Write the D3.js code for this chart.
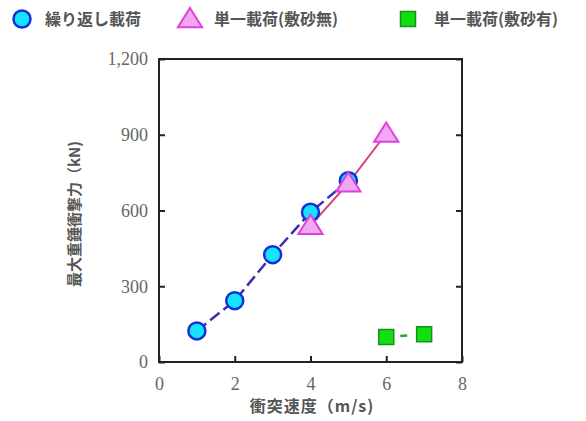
<!DOCTYPE html>
<html><head><meta charset="utf-8">
<script src="https://cdn.jsdelivr.net/npm/d3@7"></script>
<style>body{margin:0;background:#fff}</style>
</head><body>
<svg id="c" width="586" height="421"></svg>
<script>
const seriesNames = ["繰り返し載荷", "単一載荷(敷砂無)", "単一載荷(敷砂有)"];
const repeatX = [1, 2, 3, 4, 5];
const repeatY = [123, 243, 425, 593, 718];
const noSandX = [4, 5, 6];
const noSandY = [540, 708, 905];
const sandX = [6, 7];
const sandY = [99, 110];
const xTicks = [0, 2, 4, 6, 8];
const yTicks = [0, 300, 600, 900, 1200];

const svg = d3.select("#c");
const L = 159, R = 462, T = 59, B = 362;
const x = d3.scaleLinear().domain([0, 8]).range([L, R]);
const y = d3.scaleLinear().domain([0, 1200]).range([B, T]);
const serif = "'Liberation Serif', 'DejaVu Serif', serif";
const jp = "'Noto Sans CJK JP', sans-serif";

// frame
svg.append("rect").attr("x", L).attr("y", T).attr("width", R - L).attr("height", B - T)
  .attr("fill", "none").attr("stroke", "#222").attr("stroke-width", 2);

// axes
const gx = svg.append("g").attr("transform", `translate(0,${B})`)
  .call(d3.axisBottom(x).tickValues(xTicks).tickSize(-6).tickPadding(15).tickFormat(d3.format("d")));
const gy = svg.append("g").attr("transform", `translate(${L},0)`)
  .call(d3.axisLeft(y).tickValues(yTicks).tickSize(-6).tickPadding(11).tickFormat(d3.format(",")));
const gr = svg.append("g").attr("transform", `translate(${R},0)`)
  .call(d3.axisRight(y).tickValues(yTicks).tickSize(-6).tickFormat(""));
[gx, gy, gr].forEach(g => {
  g.select(".domain").remove();
  g.selectAll(".tick line").attr("stroke", "#222").attr("stroke-width", 2);
  g.selectAll("text").attr("font-family", serif).attr("font-size", 18).attr("fill", "#666");
});

// lines
const line = d3.line().x(d => x(d[0])).y(d => y(d[1]));
svg.append("path").datum(repeatX.map((v, i) => [v, repeatY[i]])).attr("d", line)
  .attr("fill", "none").attr("stroke", "#3a2fb0").attr("stroke-width", 2.5).attr("stroke-dasharray", "12,5");
svg.append("path").datum(noSandX.map((v, i) => [v, noSandY[i]])).attr("d", line)
  .attr("fill", "none").attr("stroke", "#d8407a").attr("stroke-width", 2);
svg.append("path").datum(sandX.map((v, i) => [v, sandY[i]])).attr("d", line)
  .attr("fill", "none").attr("stroke", "#30a030").attr("stroke-width", 2.5).attr("stroke-dasharray", "0,14,7,100");

// markers
function circle(g, cx, cy) {
  g.append("circle").attr("cx", cx).attr("cy", cy).attr("r", 8.5)
    .attr("fill", "#14e4ff").attr("stroke", "#1530d8").attr("stroke-width", 2.5);
}
function tri(g, cx, cy) {
  const s = 11;
  g.append("path").attr("d", `M${cx},${cy - s}L${cx + s * 1.1},${cy + s * 0.75}L${cx - s * 1.1},${cy + s * 0.75}Z`)
    .attr("fill", "#f0a8f0").attr("stroke", "#e040e0").attr("stroke-width", 2);
}
function sq(g, cx, cy) {
  g.append("rect").attr("x", cx - 7.5).attr("y", cy - 7.5).attr("width", 15).attr("height", 15)
    .attr("fill", "#10e010").attr("stroke", "#18901a").attr("stroke-width", 1.5);
}
const mk = svg.append("g");
repeatX.forEach((v, i) => circle(mk, x(v), y(repeatY[i])));
noSandX.forEach((v, i) => tri(mk, x(v), y(noSandY[i])));
sandX.forEach((v, i) => sq(mk, x(v), y(sandY[i])));

// legend
const lg = svg.append("g");
circle(lg, 22, 19);
tri(lg, 190, 19);
sq(lg, 408, 19);
[[45, seriesNames[0]], [214, seriesNames[1]], [434, seriesNames[2]]].forEach(([lx, t]) => {
  lg.append("text").attr("x", lx).attr("y", 25).text(t)
    .attr("font-family", jp).attr("font-size", 16).attr("font-weight", "bold").attr("fill", "#555");
});

// axis titles
svg.append("text").attr("x", 312).attr("y", 412).attr("text-anchor", "middle")
  .attr("font-family", jp).attr("font-size", 16).attr("font-weight", "bold").attr("fill", "#555")
  .attr("letter-spacing", 1).text("衝突速度（m/s)");
svg.append("text").attr("transform", "translate(80,214) rotate(-90)").attr("text-anchor", "middle")
  .attr("font-family", jp).attr("font-size", 15).attr("font-weight", "bold").attr("fill", "#555")
  .text("最大重錘衝撃力（kN)");
</script>
</body></html>
